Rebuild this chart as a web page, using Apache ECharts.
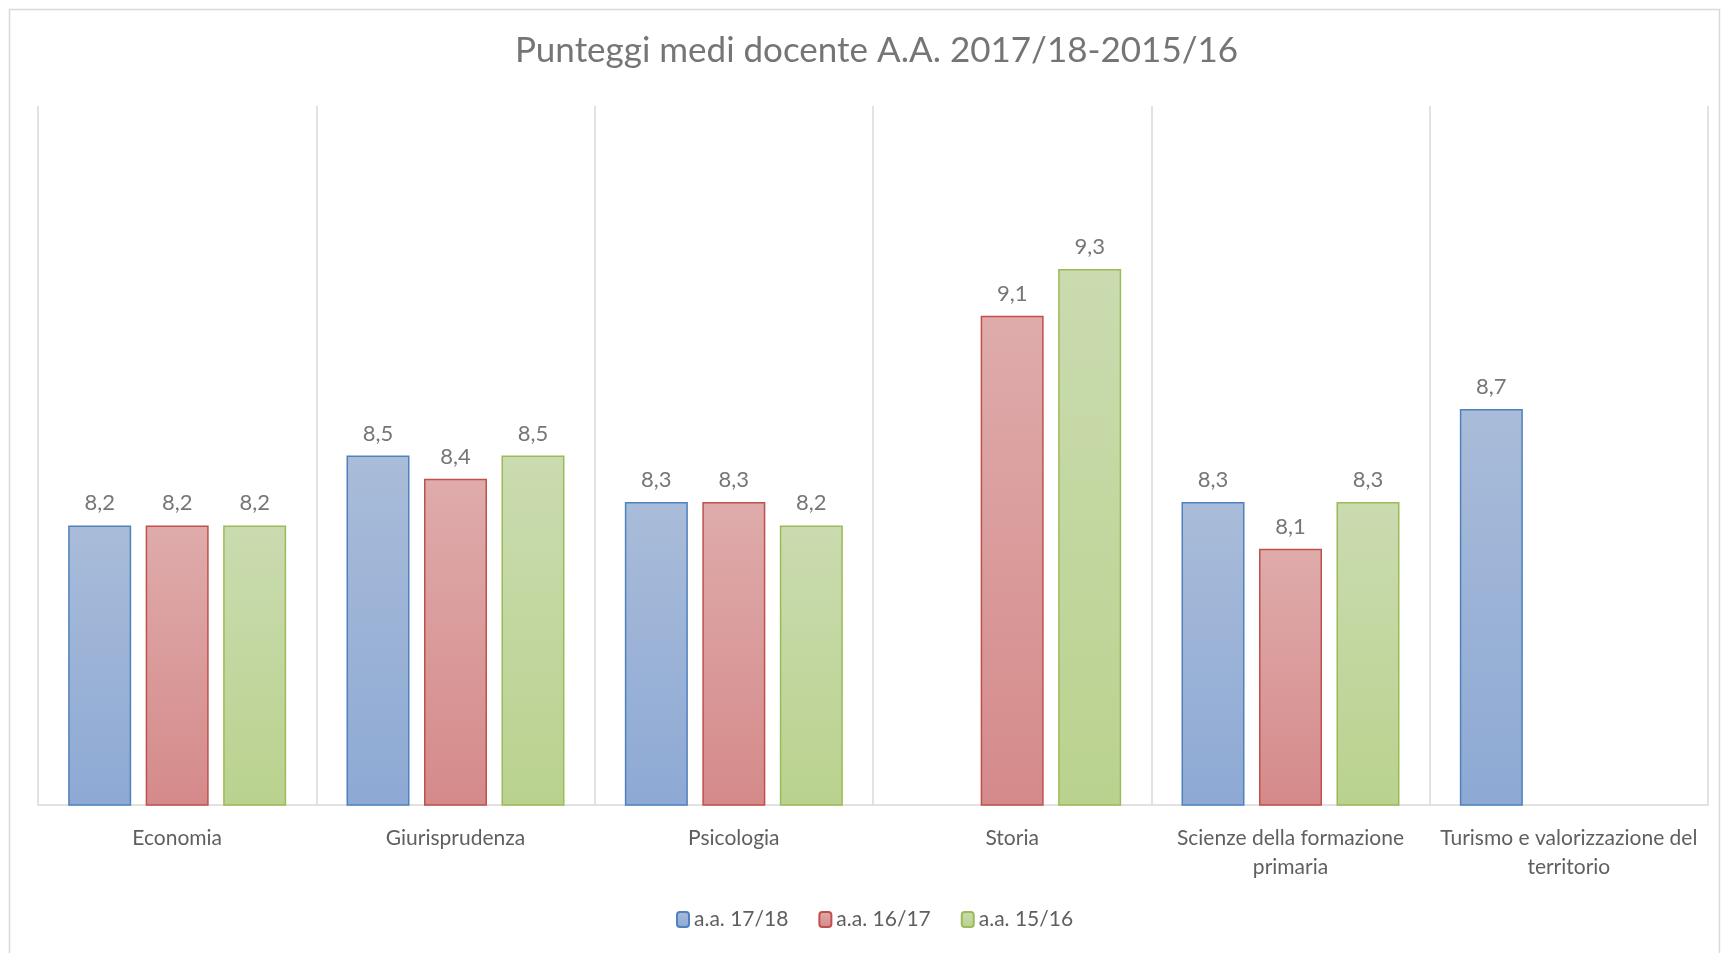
<!DOCTYPE html>
<html>
<head>
<meta charset="utf-8">
<script src="https://cdn.jsdelivr.net/npm/echarts@6/dist/echarts.min.js"></script>
<style>
  html, body { margin: 0; padding: 0; background: #fff; }
  #chart { width: 1721px; height: 953px; }
</style>
</head>
<body>
<div id="chart"></div>
<script>
// categories (corsi di laurea)
const categories = [
  'Economia',
  'Giurisprudenza',
  'Psicologia',
  'Storia',
  'Scienze della formazione\nprimaria',
  'Turismo e valorizzazione del\nterritorio'
];
const seriesNames = ['a.a. 17/18', 'a.a. 16/17', 'a.a. 15/16'];
const aa1718 = [8.2, 8.5, 8.3, null, 8.3, 8.7];
const aa1617 = [8.2, 8.4, 8.3, 9.1, 8.1, null];
const aa1516 = [8.2, 8.5, 8.2, 9.3, 8.3, null];

const fontFamily = 'Lato, "Open Sans", sans-serif';

function makeSeries(name, data, top, bottom, border) {
  return {
    name: name,
    type: 'bar',
    data: data,
    barWidth: 63,
    barGap: '23%',
    itemStyle: {
      color: new echarts.graphic.LinearGradient(0, 0, 0, 1, [
        { offset: 0, color: top },
        { offset: 1, color: bottom }
      ]),
      borderColor: border,
      borderWidth: 1.5
    },
    label: {
      show: true,
      position: 'top',
      distance: 11,
      color: '#767676',
      fontSize: 22,
      fontFamily: fontFamily,
      formatter: p => p.value.toFixed(1).replace('.', ',')
    }
  };
}

const chart = echarts.init(document.getElementById('chart'));
chart.setOption({
  animation: false,
  title: {
    text: 'Punteggi medi docente A.A. 2017/18-2015/16',
    left: 510,
    top: 28,
    textStyle: {
      color: '#757575',
      fontSize: 35,
      fontWeight: 'normal',
      fontFamily: fontFamily
    }
  },
  legend: {
    bottom: 18,
    left: 671,
    itemWidth: 12,
    itemHeight: 15,
    itemGap: 30,
    data: seriesNames,
    textStyle: {
      color: '#5f5f5f',
      fontSize: 21,
      fontFamily: fontFamily
    }
  },
  grid: {
    left: 38,
    right: 13,
    top: 106,
    bottom: 148
  },
  xAxis: {
    type: 'category',
    data: categories,
    axisLine: { lineStyle: { color: '#d9d9d9', width: 1.5 } },
    axisTick: { show: false },
    splitLine: { show: true, lineStyle: { color: '#d9d9d9', width: 1.5 } },
    axisLabel: {
      interval: 0,
      margin: 19,
      color: '#5f5f5f',
      fontSize: 21,
      lineHeight: 29,
      fontFamily: fontFamily
    }
  },
  yAxis: {
    type: 'value',
    min: 7,
    max: 10,
    interval: 0.5,
    show: false,
    splitLine: { show: false }
  },
  graphic: [{
    type: 'rect',
    left: 7,
    top: 7,
    shape: { width: 1710, height: 960 },
    style: { fill: 'none', stroke: '#d9d9d9', lineWidth: 1.5 },
    silent: true
  }],
  series: [
    makeSeries(seriesNames[0], aa1718, '#a9bcd9', '#8da9d4', '#4f81bd'),
    makeSeries(seriesNames[1], aa1617, '#dfabab', '#d58a8a', '#c0504d'),
    makeSeries(seriesNames[2], aa1516, '#cadbb0', '#bad28e', '#9bbb59')
  ]
});
window.addEventListener('resize', () => chart.resize());
</script>
</body>
</html>
